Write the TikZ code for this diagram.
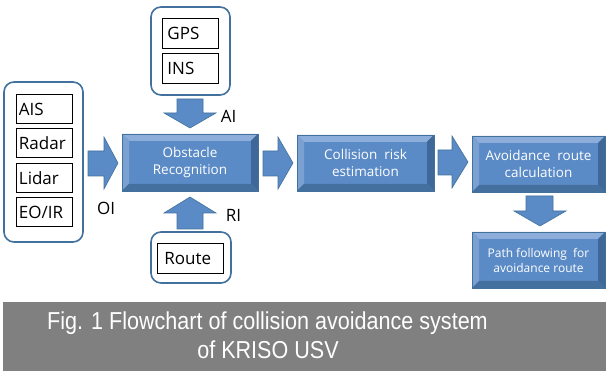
\documentclass[tikz,border=0pt]{standalone}
\usepackage{fontspec}
\setmainfont{Open Sans}
\newfontfamily\capfont{Liberation Sans}
\usepackage{graphicx}
\definecolor{face}{HTML}{5B8BC6}
\definecolor{bevtop}{HTML}{8DAEDB}
\definecolor{bevleft}{HTML}{7BA0D2}
\definecolor{bevright}{HTML}{3E6898}
\definecolor{bevbot}{HTML}{44709F}
\definecolor{bevborder}{HTML}{41719C}
\definecolor{capgray}{HTML}{808080}
\tikzset{
  bev/.style={draw=bevborder, line width=0.8pt, fill=face, text=white, align=center, inner sep=0pt,
    font=\fontsize{13.5}{17}\selectfont,
    path picture={
      \coordinate (nw) at (path picture bounding box.north west);
      \coordinate (ne) at (path picture bounding box.north east);
      \coordinate (se) at (path picture bounding box.south east);
      \coordinate (sw) at (path picture bounding box.south west);
      \fill[bevtop] (nw) -- (ne) -- ([shift={(-7,7)}]ne) -- ([shift={(7,7)}]nw) -- cycle;
      \fill[bevleft] (nw) -- ([shift={(7,7)}]nw) -- ([shift={(7,-7)}]sw) -- (sw) -- cycle;
      \fill[bevright] (ne) -- (se) -- ([shift={(-7,-7)}]se) -- ([shift={(-7,7)}]ne) -- cycle;
      \fill[bevbot] (sw) -- (se) -- ([shift={(-7,-7)}]se) -- ([shift={(7,-7)}]sw) -- cycle;
    }},
  container/.style={draw=bevborder, line width=1.6pt, fill=white, rounded corners=10pt, inner sep=0pt},
  inbox/.style={draw=black, line width=0.9pt, fill=white, inner sep=0pt, anchor=north west,
    font=\fontsize{17}{19}\selectfont, align=left},
  blk/.style={fill=face, draw=bevborder, line width=0.6pt},
  lbl/.style={font=\fontsize{17}{19}\selectfont, inner sep=0pt},
}
\begin{document}
\begin{tikzpicture}[x=1pt,y=-1pt]
\useasboundingbox (0,0) rectangle (606,371);

% containers
\node[container, minimum width=79pt, minimum height=160pt] (contL) at (43.5,162) {};
\node[container, minimum width=79pt, minimum height=88pt] (contT) at (190.5,51) {};
\node[container, minimum width=80pt, minimum height=51pt] (contB) at (191,257.5) {};

% inner boxes
\node[inbox, minimum width=56pt, minimum height=29pt, text width=53pt] (ais) at (16,94) {\hspace*{1pt}AIS};
\node[inbox, minimum width=56pt, minimum height=29pt, text width=53pt] (radar) at (16,128) {\hspace*{1pt}Radar};
\node[inbox, minimum width=56pt, minimum height=29pt, text width=53pt] (lidar) at (16,163) {\hspace*{1pt}Lidar};
\node[inbox, minimum width=56pt, minimum height=29pt, text width=53pt] (eoir) at (16,197) {\hspace*{1pt}EO/IR};
\node[inbox, minimum width=56pt, minimum height=30pt, text width=50pt] (gps) at (162,18) {\hspace*{2pt}GPS};
\node[inbox, minimum width=56pt, minimum height=30pt, text width=50pt] (ins) at (162,53) {\hspace*{2pt}INS};
\node[inbox, minimum width=66pt, minimum height=30pt, text width=60pt] (route) at (157,243) {\hspace*{4pt}Route};

% main boxes
\node[bev, minimum width=136pt, minimum height=57pt] (obs) at (190,162.5) {Obstacle\\Recognition};
\node[bev, minimum width=137pt, minimum height=56pt] (cre) at (365.5,163) {Collision\ \ risk\\estimation};
\node[bev, minimum width=133pt, minimum height=56pt] (arc) at (538.5,164) {Avoidance\ \ route\\calculation};
\node[bev, minimum width=133pt, minimum height=56pt, font=\fontsize{12}{15}\selectfont] (pfr) at (538.5,260) {Path\ following\ \ for\\avoidance\ route};

% block arrows
\filldraw[blk] (88,151) -- (104,151) -- (104,137) -- (118,163) -- (104,189) -- (104,176) -- (88,176) -- cycle;
\filldraw[blk] (263,151) -- (278,151) -- (278,137) -- (293,163) -- (278,189) -- (278,176) -- (263,176) -- cycle;
\filldraw[blk] (438,150) -- (452,150) -- (452,136) -- (468,162) -- (452,188) -- (452,175) -- (438,175) -- cycle;
\filldraw[blk] (177,99) -- (203,99) -- (203,113) -- (216,113) -- (190,128) -- (164,113) -- (177,113) -- cycle;
\filldraw[blk] (177,229) -- (203,229) -- (203,213) -- (216,213) -- (190,197) -- (164,213) -- (177,213) -- cycle;
\filldraw[blk] (526,196) -- (553,196) -- (553,211) -- (566,211) -- (540,226) -- (514,211) -- (526,211) -- cycle;

% labels
\node[lbl] (ai) at (228.5,116) {AI};
\node[lbl] (oi) at (106,208) {OI};
\node[lbl] (ri) at (233.5,215) {RI};

% caption
\fill[capgray] (3,302) rectangle (606,371);
\node[text=white, font=\capfont\fontsize{24.5}{28}\selectfont, anchor=base, inner sep=0pt] (cap1) at (267.5,329.5) {\scalebox{0.88}[1]{Fig. 1 Flowchart of collision avoidance system}};
\node[text=white, font=\capfont\fontsize{24.5}{28}\selectfont, anchor=base, inner sep=0pt] (cap2) at (268,359) {\scalebox{0.88}[1]{of KRISO USV}};
\end{tikzpicture}
\end{document}
